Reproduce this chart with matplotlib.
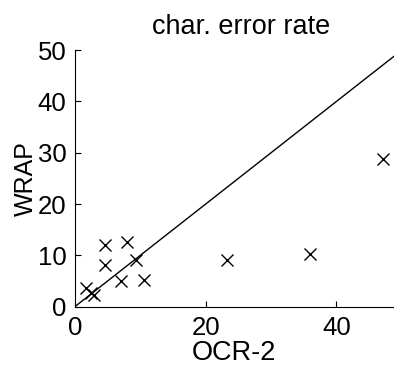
from matplotlib import pyplot as plt

# character error rates per document
ocr2_rate = [47.1, 36.0, 23.2, 10.5, 9.3, 7.9, 7.1, 4.6, 4.6, 1.7, 2.5, 3.0]
wrap_rate = [28.8, 10.3, 9.0, 5.2, 9.0, 12.7, 5.0, 12.0, 8.1, 3.6, 2.6, 2.2]
diag = [0, 50]

plt.rcParams['font.family'] = ['Liberation Sans', 'DejaVu Sans']

fig = plt.figure(figsize=(3.94, 3.74), dpi=100)
ax = fig.add_axes([0.19, 0.18, 0.81, 0.686])

ax.plot(diag, diag, color='black', linewidth=1)
ax.plot(ocr2_rate, wrap_rate, 'x', color='black', markersize=8.5, markeredgewidth=1)

ax.set_xlim(0, 48.8)
ax.set_ylim(0, 50)
ax.set_xticks([0, 20, 40])
ax.set_yticks([0, 10, 20, 30, 40, 50])
ax.tick_params(direction='in', length=4, labelsize=18.5, width=0.8)
ax.tick_params(axis='x', pad=7)
ax.tick_params(axis='y', pad=6)

for side in ('top', 'right'):
    ax.spines[side].set_visible(False)

# title sits slightly right of the axes centre in the original
ax.set_title('char. error rate', fontsize=19.5, pad=11.5, x=0.522)
ax.set_xlabel('OCR-2', fontsize=19.5, labelpad=0)
ax.set_ylabel('WRAP', fontsize=18, labelpad=0)

fig.savefig('out.png', dpi=100)
